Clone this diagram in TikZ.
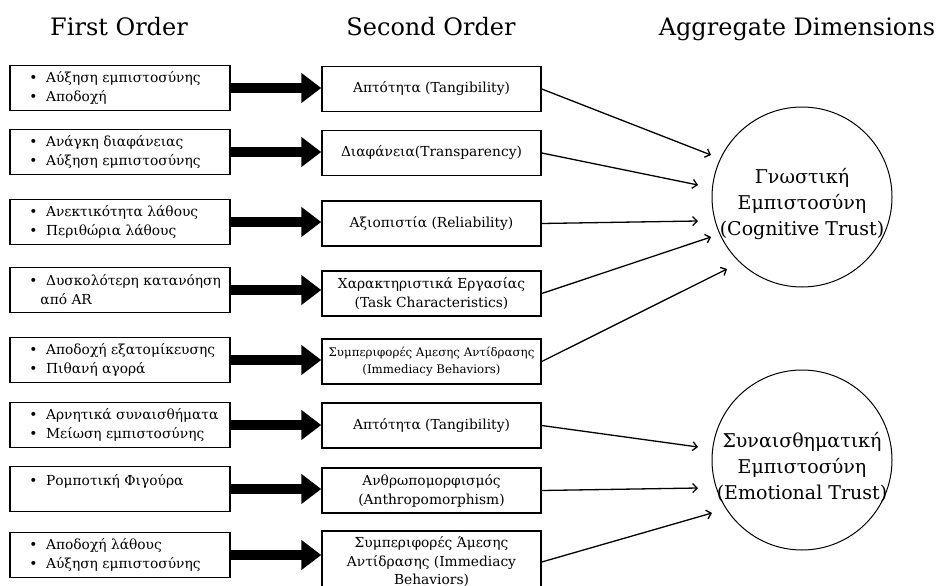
\documentclass[tikz,border=0pt]{standalone}
\usepackage{fontspec}
\setmainfont{DejaVu Serif}
\usetikzlibrary{arrows.meta}
\newcommand{\itm}{\textbullet\hspace{8.5pt}}

\begin{document}
\begin{tikzpicture}[x=1pt,y=-1pt,
  fbox/.style={draw,line width=1.5pt,minimum width=220pt,minimum height=45pt},
  flist/.style={anchor=west,align=left,inner sep=0pt,font=\fontsize{13.8}{19}\selectfont},
  sbox/.style={draw,line width=1.5pt,minimum width=219pt,minimum height=45pt,align=center,font=\fontsize{13.8}{19}\selectfont},
  fat/.style={line width=10pt,-{Triangle[length=20pt,width=29pt]}},
  feed/.style={line width=1.3pt,-{Straight Barb[length=4.5pt,width=9pt]}},
  dim/.style={circle,draw,line width=1pt,minimum size=180pt},
  dimtext/.style={align=center,inner sep=0pt,font=\fontsize{19}{26}\selectfont},
  coltitle/.style={anchor=base,font=\fontsize{24}{28}\selectfont}]
  \useasboundingbox (0,0) rectangle (937,586);
  \clip (0,0) rectangle (937,586);

  % column titles
  \node[coltitle] (t1) at (119,36) {First Order};
  \node[coltitle] (t2) at (431,36) {Second Order};
  \node[coltitle] (t3) at (797,36) {Aggregate Dimensions};

  % first order boxes
  \foreach \n/\y/\txt in {
    1/88/{\itm Αύξηση εμπιστοσύνης\\\itm Αποδοχή},
    2/152/{\itm Ανάγκη διαφάνειας\\\itm Αύξηση εμπιστοσύνης},
    3/222/{\itm Ανεκτικότητα λάθους\\\itm Περιθώρια λάθους},
    4/290/{\itm Δυσκολότερη κατανόηση\\\hspace*{11pt}από AR},
    5/360/{\itm Αποδοχή εξατομίκευσης\\\itm Πιθανή αγορά},
    6/425/{\itm Αρνητικά συναισθήματα\\\itm Μείωση εμπιστοσύνης},
    7/489/{\itm Ρομποτική Φιγούρα\\\mbox{}},
    8/555/{\itm Αποδοχή λάθους\\\itm Αύξηση εμπιστοσύνης}} {
    \node[fbox] (f\n) at (120,\y) {};
    \node[flist] (fl\n) at ([xshift=20pt]f\n.west) {\txt};
  }

  % second order boxes
  \node[sbox] (s1) at (431.5,89) {Απτότητα (Tangibility)};
  \node[sbox] (s2) at (431.5,153) {Διαφάνεια(Transparency)};
  \node[sbox] (s3) at (431.5,223.5) {Αξιοπιστία (Reliability)};
  \node[sbox] (s4) at (431.5,293.5) {Χαρακτηριστικά Εργασίας\\(Task Characteristics)};
  \node[sbox,font=\fontsize{11.8}{17}\selectfont] (s5) at (431.5,361.5) {Συμπεριφορές Αμεσης Αντίδρασης\\(Immediacy Behaviors)};
  \node[sbox] (s6) at (431.5,425.5) {Απτότητα (Tangibility)};
  \node[sbox] (s7) at (431.5,490.5) {Ανθρωπομορφισμός\\(Anthropomorphism)};
  \node[sbox,minimum height=62pt,font=\fontsize{13.8}{18.5}\selectfont] (s8) at (431.5,562) {Συμπεριφορές Άμεσης\\Αντίδρασης (Immediacy\\Behaviors)};

  \foreach \n in {1,...,8} {
    \draw[fat] (f\n.east) -- (f\n.east -| s\n.west);
  }

  % aggregate dimensions
  \node[dim] (cog) at (802,197) {};
  \node[dimtext] (cogt) at (802,204) {Γνωστική\\Εμπιστοσύνη\\(Cognitive Trust)};
  \node[dim] (emo) at (802,460) {};
  \node[dimtext] (emot) at (802,467) {Συναισθηματική\\Εμπιστοσύνη\\(Emotional Trust)};

  \coordinate (c1) at (711,155);
  \coordinate (c2) at (698,185);
  \coordinate (c3) at (698,221);
  \coordinate (c4) at (711,237);
  \coordinate (c5) at (727,269);
  \coordinate (e1) at (698,447);
  \coordinate (e2) at (698,488);
  \coordinate (e3) at (712,513);

  \foreach \n in {1,...,5} {
    \draw[feed] (s\n.east) -- (c\n);
  }
  \foreach \n/\m in {6/1,7/2,8/3} {
    \draw[feed] (s\n.east) -- (e\m);
  }
\end{tikzpicture}
\end{document}
